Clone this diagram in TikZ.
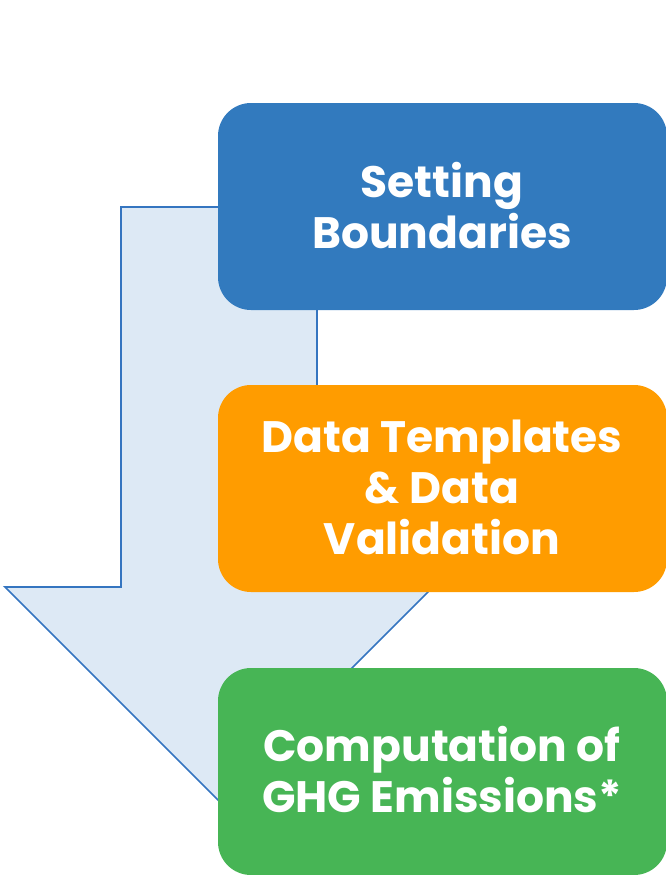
\documentclass[tikz,border=0pt]{standalone}
\usepackage{fontspec}
\setmainfont{Poppins}
\definecolor{arrowfill}{HTML}{DDE9F5}
\definecolor{arrowline}{HTML}{3575C0}
\definecolor{boxblue}{HTML}{327ABE}
\definecolor{boxorange}{HTML}{FF9C00}
\definecolor{boxgreen}{HTML}{47B555}
\tikzset{
  stepbox/.style={rounded corners=33pt, inner sep=0pt},
  boxtext/.style={text=white, align=center, font=\fontsize{44}{51}\selectfont\bfseries},
}
\begin{document}
\begin{tikzpicture}[x=1pt,y=-1pt]
\useasboundingbox (0,0) rectangle (666,875);
\clip (0,0) rectangle (666,875);
% big down arrow
\draw[arrowline, fill=arrowfill, line width=1.7pt, line join=miter]
  (121,207) coordinate (a1) -- (317,207) -- (317,587) -- (433,587) -- (219,801) coordinate (tip)
  -- (5,587) -- (121,587) -- cycle;
% boxes
\fill[boxblue, stepbox] (218,103) rectangle (667,310);
\fill[boxorange, stepbox] (218,385) rectangle (667,592);
\fill[boxgreen, stepbox] (218,668) rectangle (667,875);
\node[boxtext] (b1) at (442,206) {Setting\\Boundaries};
\node[boxtext] (b2) at (442,487) {Data Templates\\\& Data\\Validation};
\node[boxtext] (b3) at (442,770) {Computation of\\GHG Emissions*};
\end{tikzpicture}
\end{document}
